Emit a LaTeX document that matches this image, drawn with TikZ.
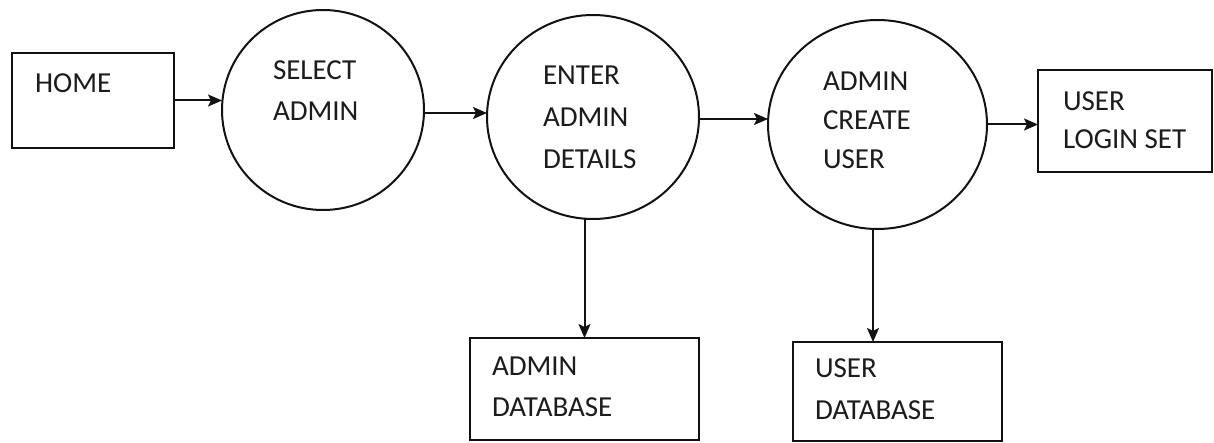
\documentclass[tikz,border=0pt]{standalone}
\usepackage{fontspec}
\setmainfont{Carlito}
\usetikzlibrary{arrows.meta,shapes.geometric,calc}
\definecolor{ink}{HTML}{121212}
\definecolor{txt}{HTML}{1c1c1c}
\begin{document}
\begin{tikzpicture}[x=1pt,y=-1pt,
  every node/.style={inner sep=0pt, outer sep=0pt},
  proc/.style={ellipse, draw=ink, line width=2pt},
  store/.style={rectangle, draw=ink, line width=2pt},
  lbl/.style={anchor=north west, align=left, text=txt,
    font=\fontsize{29}{40.5}\selectfont},
  flow/.style={draw=ink, line width=2pt,
    -{Stealth[length=14pt,width=12pt,inset=3pt]}}]
  \useasboundingbox[fill=white] (0,0) rectangle (1214,443);

  % entities and data stores
  \node[store, minimum width=162pt, minimum height=95pt] (home) at (93,100.5) {};
  \node[store, minimum width=174pt, minimum height=102pt] (login) at (1125,121) {};
  \node[store, minimum width=229pt, minimum height=102pt] (adb) at (584.5,389) {};
  \node[store, minimum width=209pt, minimum height=99pt] (udb) at (897.5,391.5) {};

  % processes
  \node[proc, minimum width=202pt, minimum height=200pt] (sel) at (323,110) {};
  \node[proc, minimum width=212pt, minimum height=204pt] (ent) at (593,117) {};
  \node[proc, minimum width=219pt, minimum height=209pt] (cre) at (877.5,124.5) {};

  % labels
  \node[lbl] (homet) at (35,74) {HOME};
  \node[lbl] (selt) at (273,61) {SELECT\\ADMIN};
  \node[lbl, font=\fontsize{29}{42}\selectfont] (entt) at (543,66) {ENTER\\ADMIN\\DETAILS};
  \node[lbl, font=\fontsize{29}{39}\selectfont] (cret) at (823,72) {ADMIN\\CREATE\\USER};
  \node[lbl, font=\fontsize{29}{38}\selectfont] (logint) at (1063,92) {USER\\LOGIN SET};
  \node[lbl] (adbt) at (492,357) {ADMIN\\DATABASE};
  \node[lbl, font=\fontsize{29}{42}\selectfont] (udbt) at (815,359) {USER\\DATABASE};

  % data flows
  \draw[flow] (home.east) -- (home.east -| sel.west);
  \draw[flow] ([yshift=-3pt]sel.east) -- ([yshift=-3pt]sel.east -| ent.west);
  \draw[flow] ([yshift=-2pt]ent.east) -- ([yshift=-2pt]ent.east -| cre.west);
  \draw[flow] (cre.east) -- (cre.east -| login.west);
  \draw[flow] (adb.north |- ent.south) -- (adb.north);
  \draw[flow] ([xshift=-4.5pt]cre.south) -- ([xshift=-4.5pt]cre.south |- udb.north);
\end{tikzpicture}
\end{document}
